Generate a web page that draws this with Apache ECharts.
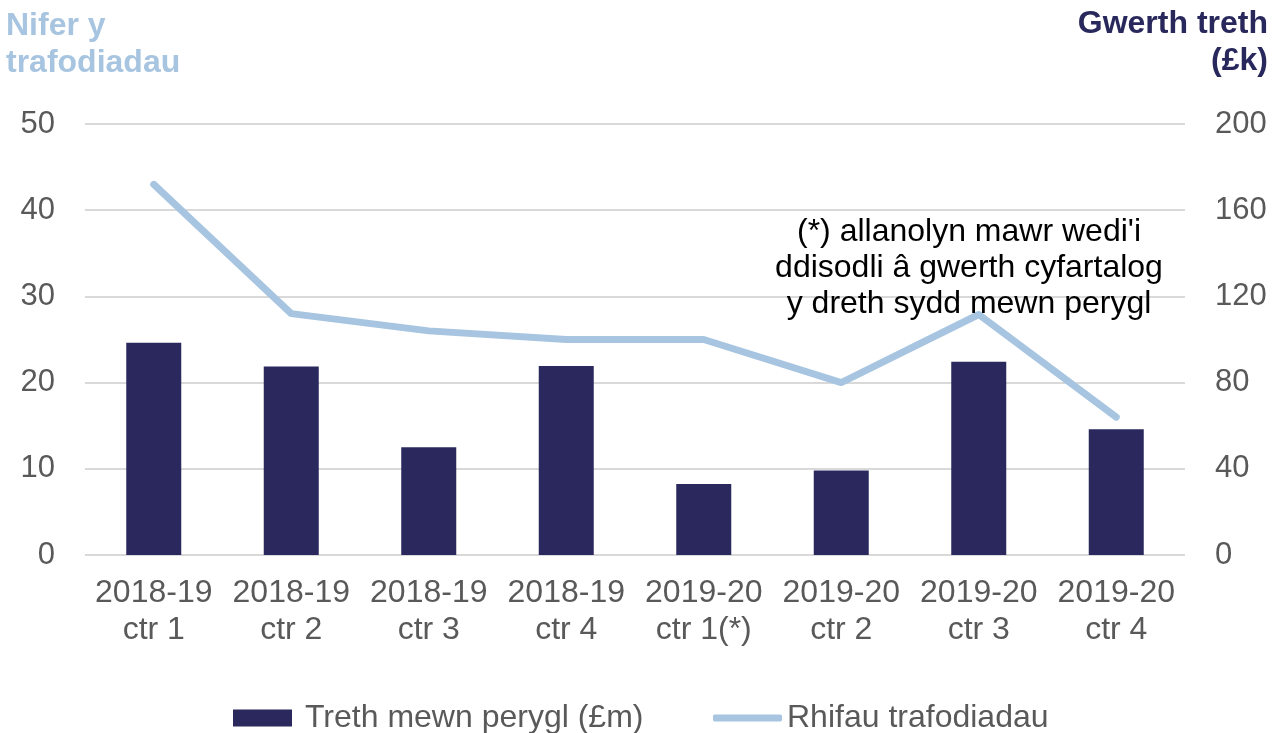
<!DOCTYPE html>
<html><head><meta charset="utf-8">
<script src="https://cdn.jsdelivr.net/npm/echarts@6/dist/echarts.min.js"></script>
<style>html,body{margin:0;padding:0;background:#fff}#c{width:1272px;height:733px}</style>
</head><body><div id="c"></div>
<script>
var categories = ['2018-19\nctr 1','2018-19\nctr 2','2018-19\nctr 3','2018-19\nctr 4','2019-20\nctr 1(*)','2019-20\nctr 2','2019-20\nctr 3','2019-20\nctr 4'];
var taxAtRisk = [98.5, 87.5, 50, 87.7, 33, 39.2, 89.7, 58.4];
var transactions = [43, 28, 26, 25, 25, 20, 27.9, 16];
var leftTicks = [0, 10, 20, 30, 40, 50];
var rightTicks = [0, 40, 80, 120, 160, 200];
var font = 'Liberation Sans, Arial, sans-serif';
var chart = echarts.init(document.getElementById('c'));
chart.setOption({
  animation: false,
  grid: {left: 85, right: 87, top: 124, bottom: 178},
  xAxis: {
    type: 'category', data: categories,
    axisLine: {show: false}, axisTick: {show: false},
    axisLabel: {color: '#595959', fontSize: 32, fontFamily: font, lineHeight: 37, margin: 20, interval: 0}
  },
  yAxis: [{
    type: 'value', min: leftTicks[0], max: leftTicks[leftTicks.length-1], interval: 10,
    axisLabel: {color: '#595959', fontSize: 31, fontFamily: font, margin: 30},
    splitLine: {lineStyle: {color: '#d9d9d9', width: 2}},
    axisLine: {show: false}, axisTick: {show: false}
  }, {
    type: 'value', min: rightTicks[0], max: rightTicks[rightTicks.length-1], interval: 40,
    axisLabel: {color: '#595959', fontSize: 31, fontFamily: font, margin: 30},
    splitLine: {show: false},
    axisLine: {show: false}, axisTick: {show: false}
  }],
  legend: [{
    data: [{name: 'Treth mewn perygl (£m)', icon: 'rect'}],
    left: 233, top: 702, itemWidth: 59, itemHeight: 17, padding: 0,
    textStyle: {color: '#595959', fontSize: 32, fontFamily: font, lineHeight: 32, padding: [0, 0, 0, 8]}
  }, {
    data: [{name: 'Rhifau trafodiadau', icon: 'roundRect'}],
    left: 713, top: 702, itemWidth: 69, itemHeight: 7, padding: 0,
    textStyle: {color: '#595959', fontSize: 32, fontFamily: font, lineHeight: 32}
  }],
  graphic: [
    {type: 'text', x: 6, y: 8, style: {text: 'Nifer y\ntrafodiadau', fill: '#a7c5e0', font: 'bold 32px ' + font, lineHeight: 37}},
    {type: 'text', x: 1268, y: 6, style: {text: 'Gwerth treth\n(£k)', fill: '#29285c', font: 'bold 32px ' + font, lineHeight: 37, align: 'right'}},
    {type: 'text', x: 969, y: 214, style: {text: "(*) allanolyn mawr wedi'i\nddisodli â gwerth cyfartalog\ny dreth sydd mewn perygl", fill: '#000', font: '32px ' + font, lineHeight: 36, align: 'center'}, z: 10}
  ],
  series: [{
    name: 'Treth mewn perygl (£m)', type: 'bar', yAxisIndex: 1, data: taxAtRisk,
    barWidth: 55, itemStyle: {color: '#2a285c'}
  }, {
    name: 'Rhifau trafodiadau', type: 'line', yAxisIndex: 0, data: transactions,
    symbol: 'none', lineStyle: {color: '#a7c5e0', width: 7, cap: 'round', join: 'round'}, itemStyle: {color: '#a7c5e0'}
  }]
});
</script></body></html>
